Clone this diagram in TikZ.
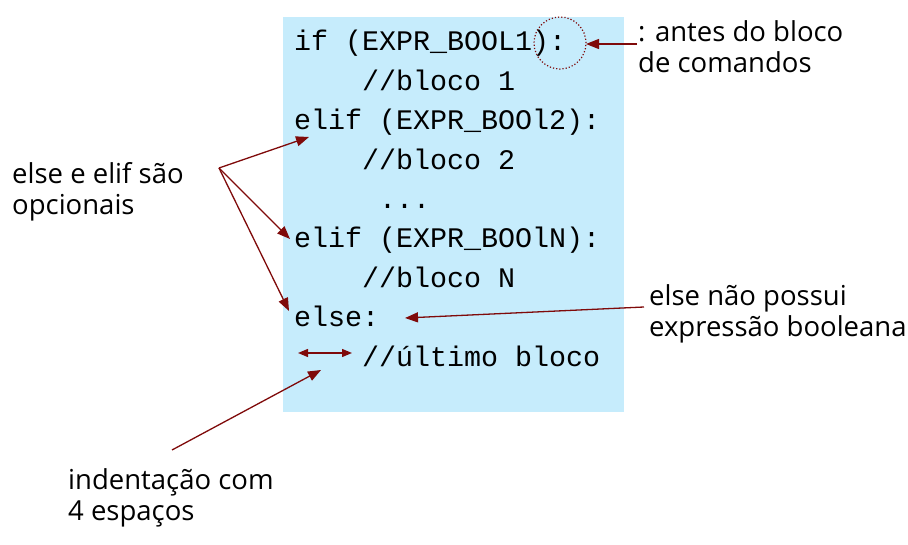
\documentclass[tikz,border=0pt]{standalone}
\usepackage{fontspec}
\setmainfont{Open Sans}
\newfontfamily\codefont{Liberation Mono}
\usetikzlibrary{arrows.meta,calc}
\definecolor{boxblue}{HTML}{C6ECFC}
\definecolor{arrred}{HTML}{7F0A0A}
\tikzset{
  codeline/.style={anchor=base west,inner sep=0pt,font=\codefont\fontsize{28.33}{34}\selectfont},
  note/.style={anchor=base west,inner sep=0pt,align=left,font=\fontsize{27.5}{31}\selectfont},
  pointer/.style={draw=arrred,line width=1.3pt,-{Triangle[length=13pt,width=10pt]}},
  dblpointer/.style={draw=arrred,line width=1.3pt,{Triangle[length=10pt,width=8pt]}-{Triangle[length=10pt,width=8pt]}}
}
\begin{document}
\begin{tikzpicture}[x=1pt,y=-1pt]
\useasboundingbox (0,0) rectangle (908,545);
\fill[boxblue] (283,17) rectangle (624,412);
\node[codeline] (l1) at (294,51) {if (EXPR\_BOOL1):};
\node[codeline] (l2) at (294,90.4) {\ \ \ \ //bloco 1};
\node[codeline] (l3) at (294,129.8) {elif (EXPR\_BOOl2):};
\node[codeline] (l4) at (294,169.2) {\ \ \ \ //bloco 2};
\node[codeline] (l5) at (294,208.6) {\ \ \ \ \ ...};
\node[codeline] (l6) at (294,248) {elif (EXPR\_BOOlN):};
\node[codeline] (l7) at (294,287.4) {\ \ \ \ //bloco N};
\node[codeline] (l8) at (294,326.8) {else:};
\node[codeline] (l9) at (294,366.2) {\ \ \ \ //último bloco};
% dotted circle
\node[draw=arrred,dotted,line width=1.2pt,circle,minimum size=52pt,inner sep=0pt] (circ) at (560,43) {};
% labels (anchored at the baseline of their last line)
\node[note] (n1) at (638,73) {: antes do bloco\\de comandos};
\node[note] (n2) at (12,215) {else e elif são\\opcionais};
\node[note] (n3) at (649,337) {else não possui\\expressão booleana};
\node[note] (n4) at (68,520) {indentação com\\4 espaços};
% coordinates
\coordinate (s1) at (637,44);
\coordinate (t1) at (586,44);
\coordinate (src) at (219,168);
\coordinate (t2) at (309,137);
\coordinate (t3) at (290,239);
\coordinate (t4) at (289,311);
\coordinate (s5) at (644,307);
\coordinate (t5) at (405,318);
\coordinate (d1) at (298,353);
\coordinate (d2) at (352,353);
\coordinate (s6) at (172,450);
\coordinate (t6) at (321,370);
\draw[pointer] (s1) -- (t1);
\draw[pointer] (src) -- (t2);
\draw[pointer] (src) -- (t3);
\draw[pointer] (src) -- (t4);
\draw[pointer] (s5) -- (t5);
\draw[dblpointer] (d1) -- (d2);
\draw[pointer] (s6) -- (t6);
\end{tikzpicture}
\end{document}
